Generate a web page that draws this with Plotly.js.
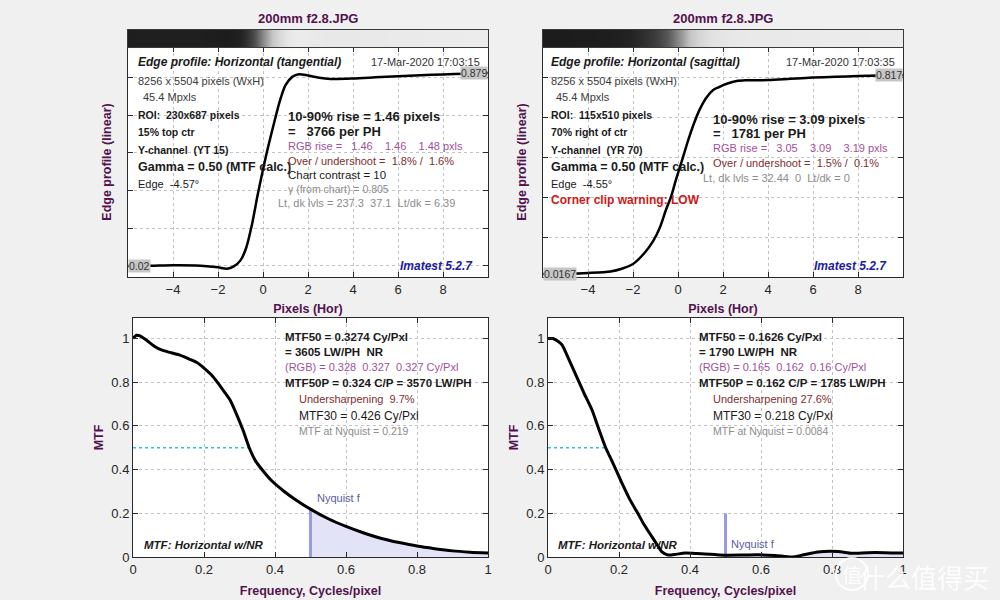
<!DOCTYPE html>
<html>
<head>
<meta charset="utf-8">
<script src="https://cdn.plot.ly/plotly-3.0.1.min.js"></script>
<style>html,body{margin:0;padding:0;background:#f0f0f0;}#chart{width:1000px;height:600px;}</style>
</head>
<body>
<div id="chart"></div>
<script>
// ---------- data ----------
const fileTitle = '200mm f2.8.JPG';

// Edge profile, horizontal (tangential)
const edgeTX = [-6,-5,-4,-3,-2.5,-2,-1.6,-1.3,-1.0,-0.75,-0.5,-0.25,0,0.25,0.5,0.75,1.0,1.3,1.6,2,2.5,3,4,5,6,7,8,9,10];
const edgeTY = [0.02,0.021,0.023,0.022,0.019,0.014,0.008,0.018,0.045,0.1,0.2,0.33,0.45,0.56,0.66,0.755,0.825,0.862,0.874,0.868,0.858,0.853,0.855,0.86,0.865,0.869,0.873,0.876,0.879];

// Edge profile, horizontal (sagittal)
const edgeSX = [-6,-5,-4,-3,-2.5,-2,-1.5,-1.1,-0.8,-0.55,-0.3,-0.1,0.2,0.45,0.7,0.95,1.25,1.55,1.8,2.2,2.6,3,4,5,6,7,8,9,10];
const edgeSY = [0.0167,0.018,0.021,0.027,0.038,0.057,0.1,0.15,0.205,0.271,0.33,0.393,0.48,0.554,0.62,0.676,0.725,0.756,0.768,0.783,0.793,0.796,0.797,0.802,0.807,0.81,0.813,0.815,0.817];

// MTF tangential
const mtfTF = [0,0.01,0.02,0.04,0.06,0.08,0.1,0.13,0.16,0.18,0.2,0.22,0.24,0.26,0.273,0.29,0.31,0.3274,0.345,0.366,0.39,0.426,0.46,0.5,0.55,0.6,0.65,0.7,0.75,0.8,0.85,0.9,0.95,1.0];
const mtfTV = [1.0,1.015,1.012,0.99,0.965,0.948,0.938,0.925,0.905,0.89,0.865,0.835,0.795,0.75,0.72,0.66,0.58,0.50,0.44,0.395,0.35,0.30,0.26,0.219,0.175,0.14,0.11,0.085,0.066,0.05,0.038,0.028,0.022,0.018];

// MTF sagittal
const mtfSF = [0,0.014,0.03,0.04,0.06,0.085,0.1,0.124,0.14,0.1626,0.18,0.208,0.23,0.253,0.27,0.293,0.31,0.321,0.338,0.36,0.386,0.42,0.442,0.47,0.5,0.55,0.592,0.64,0.687,0.72,0.76,0.817,0.856,0.9,0.95,1.0];
const mtfSV = [1.0,1.0,0.985,0.97,0.9,0.81,0.755,0.673,0.6,0.5,0.44,0.339,0.265,0.2,0.15,0.092,0.05,0.023,0.009,0.012,0.018,0.016,0.014,0.011,0.0084,0.009,0.01,0.007,0.0,0.01,0.023,0.025,0.017,0.02,0.02,0.018];

const nyquistF = 0.5;
const mtf50T = 0.3274, mtf50S = 0.1626;
const nyqT = 0.219, nyqS = 0.0084;
const xTicksEdge = [-4,-2,0,2,4,6,8];
const xTicksMtf = [0,0.2,0.4,0.6,0.8,1];
const yTicksMtf = [0,0.2,0.4,0.6,0.8,1];

// ---------- helpers ----------
const FONT = 'Liberation Sans, Arial, Helvetica, sans-serif';
const PURPLE = '#53124f';
const W = 1000, H = 600;
function ann(px, py, text, o) {
  o = o || {};
  return Object.assign({
    xref: 'paper', yref: 'paper', x: px / W, y: 1 - py / H,
    text: text, showarrow: false, xanchor: 'left', yanchor: 'middle',
    font: {family: FONT, size: o.size || 11, color: o.color || '#1a1a1a'}
  }, o.extra || {});
}
const nb = s => s.replace(/ /g, '\u00a0');
const B = s => '<b>' + nb(s) + '</b>';
const BI = s => '<b><i>' + nb(s) + '</i></b>';

function filterFrom(xs, ys, x0) {
  const ox = [], oy = [];
  xs.forEach((v, i) => { if (v >= x0) { ox.push(v); oy.push(ys[i]); } });
  return [ox, oy];
}

const [shTX, shTY] = filterFrom(mtfTF, mtfTV, nyquistF);
const [shSX, shSY] = filterFrom(mtfSF, mtfSV, nyquistF);

const grayScale = [[0, '#1c1c1c'], [0.35, '#5a5a5a'], [0.7, '#c4c4c4'], [1, '#ececec']];

const traces = [
  {type: 'heatmap', x: edgeTX, y: [0, 1], z: [edgeTY, edgeTY], xaxis: 'x5', yaxis: 'y5',
   colorscale: grayScale, showscale: false, zsmooth: 'best', hoverinfo: 'skip'},
  {type: 'heatmap', x: edgeSX, y: [0, 1], z: [edgeSY, edgeSY], xaxis: 'x6', yaxis: 'y6',
   colorscale: grayScale, showscale: false, zsmooth: 'best', hoverinfo: 'skip'},
  {type: 'scatter', mode: 'lines', x: edgeTX, y: edgeTY, xaxis: 'x', yaxis: 'y',
   line: {color: '#000', width: 2.5, shape: 'spline', smoothing: 0.8}},
  {type: 'scatter', mode: 'lines', x: edgeSX, y: edgeSY, xaxis: 'x2', yaxis: 'y2',
   line: {color: '#000', width: 2.5, shape: 'spline', smoothing: 0.8}},
  // tangential MTF
  {type: 'scatter', mode: 'lines', x: shTX, y: shTY, xaxis: 'x3', yaxis: 'y3',
   fill: 'tozeroy', fillcolor: '#e3e3f7', line: {width: 0, color: '#e3e3f7'}},
  {type: 'scatter', mode: 'lines', x: [nyquistF, nyquistF], y: [0, nyqT], xaxis: 'x3', yaxis: 'y3',
   line: {color: '#9a9ae2', width: 3}},
  {type: 'scatter', mode: 'lines', x: [0, mtf50T], y: [0.5, 0.5], xaxis: 'x3', yaxis: 'y3',
   line: {color: '#2cc4cc', width: 1.5, dash: 'dot'}},
  {type: 'scatter', mode: 'lines', x: mtfTF, y: mtfTV, xaxis: 'x3', yaxis: 'y3',
   line: {color: '#000', width: 3, shape: 'spline', smoothing: 0.6}},
  // sagittal MTF
  {type: 'scatter', mode: 'lines', x: shSX, y: shSY, xaxis: 'x4', yaxis: 'y4',
   fill: 'tozeroy', fillcolor: '#e3e3f7', line: {width: 0, color: '#e3e3f7'}},
  {type: 'scatter', mode: 'lines', x: [nyquistF, nyquistF], y: [0, 0.2], xaxis: 'x4', yaxis: 'y4',
   line: {color: '#9a9ae2', width: 3}},
  {type: 'scatter', mode: 'lines', x: [0, mtf50S], y: [0.5, 0.5], xaxis: 'x4', yaxis: 'y4',
   line: {color: '#2cc4cc', width: 1.5, dash: 'dot'}},
  {type: 'scatter', mode: 'lines', x: mtfSF, y: mtfSV, xaxis: 'x4', yaxis: 'y4',
   line: {color: '#000', width: 3, shape: 'spline', smoothing: 0.6}}
];

const tickFont = {family: FONT, size: 13, color: '#262626'};
const titleFont = {family: FONT, size: 12.5, color: PURPLE, weight: 'bold'};
function baseAxis(extra) {
  return Object.assign({
    showline: true, linecolor: '#2a2a2a', linewidth: 1, mirror: 'ticks',
    ticks: 'inside', ticklen: 5, tickcolor: '#2a2a2a',
    showgrid: true, gridcolor: '#c2c2c2', griddash: 'dot', gridwidth: 1,
    zeroline: false, tickfont: tickFont, automargin: false, fixedrange: true
  }, extra);
}
const px2x = (a, b) => [a / W, b / W];
const py2y = (top, bot) => [1 - bot / H, 1 - top / H];

const layout = {
  width: W, height: H,
  margin: {l: 0, r: 0, t: 0, b: 0},
  paper_bgcolor: '#f0f0f0', plot_bgcolor: '#ffffff',
  showlegend: false,
  font: {family: FONT},
  xaxis: baseAxis({domain: px2x(128, 488), anchor: 'y', range: [-6, 10], tickvals: xTicksEdge,
    title: {text: '<b>Pixels (Hor)</b>', font: titleFont, standoff: 8}}),
  yaxis: baseAxis({domain: py2y(47, 277), anchor: 'x', range: [-0.029, 0.995], tick0: 0.02, dtick: 0.168,
    showticklabels: false, title: {text: '<b>Edge profile (linear)</b>', font: titleFont, standoff: 12}}),
  xaxis2: baseAxis({domain: px2x(543, 903), anchor: 'y2', range: [-6, 10], tickvals: xTicksEdge,
    title: {text: '<b>Pixels (Hor)</b>', font: titleFont, standoff: 8}}),
  yaxis2: baseAxis({domain: py2y(47, 277), anchor: 'x2', range: [0.0046, 0.93], tick0: 0.0005, dtick: 0.1617,
    showticklabels: false, title: {text: '<b>Edge profile (linear)</b>', font: titleFont, standoff: 12}}),
  xaxis3: baseAxis({domain: px2x(133, 488), anchor: 'y3', range: [0, 1], tickvals: xTicksMtf,
    title: {text: '<b>Frequency, Cycles/pixel</b>', font: titleFont, standoff: 10}}),
  yaxis3: baseAxis({domain: py2y(318, 557), anchor: 'x3', range: [0, 1.094], tickvals: yTicksMtf,
    title: {text: '<b>MTF</b>', font: titleFont, standoff: 4}}),
  xaxis4: baseAxis({domain: px2x(548, 903), anchor: 'y4', range: [0, 1], tickvals: xTicksMtf,
    title: {text: '<b>Frequency, Cycles/pixel</b>', font: titleFont, standoff: 10}}),
  yaxis4: baseAxis({domain: py2y(318, 557), anchor: 'x4', range: [0, 1.094], tickvals: yTicksMtf,
    title: {text: '<b>MTF</b>', font: titleFont, standoff: 4}}),
  xaxis5: {domain: px2x(128, 488), anchor: 'y5', range: [-6, 10], showticklabels: false, ticks: '',
    showgrid: false, zeroline: false, showline: true, mirror: true, linecolor: '#3a3a3a', fixedrange: true},
  yaxis5: {domain: py2y(30, 47), anchor: 'x5', range: [-0.5, 1.5], showticklabels: false, ticks: '',
    showgrid: false, zeroline: false, showline: true, mirror: true, linecolor: '#3a3a3a', fixedrange: true},
  xaxis6: {domain: px2x(543, 903), anchor: 'y6', range: [-6, 10], showticklabels: false, ticks: '',
    showgrid: false, zeroline: false, showline: true, mirror: true, linecolor: '#3a3a3a', fixedrange: true},
  yaxis6: {domain: py2y(30, 47), anchor: 'x6', range: [-0.5, 1.5], showticklabels: false, ticks: '',
    showgrid: false, zeroline: false, showline: true, mirror: true, linecolor: '#3a3a3a', fixedrange: true},
  annotations: [],
  shapes: []
};

const A = layout.annotations;
const GRAY = '#8c8c8c', RGBC = '#a0509a', BROWN = '#7e2e2e', DARK = '#1a1a1a';

// titles
A.push(ann(308, 19, '<b>' + fileTitle + '</b>', {size: 13, color: PURPLE, extra: {xanchor: 'center'}}));
A.push(ann(723, 19, '<b>' + fileTitle + '</b>', {size: 13, color: PURPLE, extra: {xanchor: 'center'}}));

// ---- top panel text ----
function topLeftBlock(x0, info) {
  A.push(ann(x0, 62, BI(info.head), {size: 12, color: DARK}));
  A.push(ann(info.dateX, 62, nb(info.date), {size: 11, color: '#333', extra: {xanchor: 'right'}}));
  A.push(ann(x0, 81, nb('8256 x 5504 pixels (WxH)'), {size: 11, color: '#3a3a3a'}));
  A.push(ann(x0 + 5, 97, nb('45.4 Mpxls'), {size: 11, color: '#3a3a3a'}));
  A.push(ann(x0, 115, B(info.roi), {size: 10.5, color: DARK}));
  A.push(ann(x0, 132, B(info.loc), {size: 10.5, color: DARK}));
  A.push(ann(x0, 150, B(info.chan), {size: 10.5, color: DARK}));
  A.push(ann(x0, 167, B('Gamma = 0.50 (MTF calc.)'), {size: 12.5, color: DARK}));
  A.push(ann(x0, 184, nb(info.edge), {size: 11, color: DARK}));
}
topLeftBlock(136, {head: 'Edge profile: Horizontal (tangential)', date: '17-Mar-2020 17:03:15', dateX: 482,
  roi: 'ROI:  230x687 pixels', loc: '15% top ctr', chan: 'Y-channel  (YT 15)', edge: 'Edge  -4.57°'});
topLeftBlock(549, {head: 'Edge profile: Horizontal (sagittal)', date: '17-Mar-2020 17:03:35', dateX: 897,
  roi: 'ROI:  115x510 pixels', loc: '70% right of ctr', chan: 'Y-channel  (YR 70)', edge: 'Edge  -4.55°'});
A.push(ann(549, 200, B('Corner clip warning: LOW'), {size: 12, color: '#cc1a1a'}));

// right-side result text, tangential
A.push(ann(286, 116, B('10-90% rise = 1.46 pixels'), {size: 13, color: DARK}));
A.push(ann(286, 132, B('=   3766 per PH'), {size: 13, color: DARK}));
A.push(ann(286, 146, nb('RGB rise =   1.46    1.46    1.48 pxls'), {size: 11, color: RGBC}));
A.push(ann(286, 161, nb('Over / undershoot =  1.8% /  1.6%'), {size: 11, color: BROWN}));
A.push(ann(286, 175, nb('Chart contrast = 10'), {size: 11.5, color: DARK}));
A.push(ann(286, 189, nb('γ (from chart) = 0.805'), {size: 10.5, color: GRAY}));
A.push(ann(276, 203, nb('Lt, dk lvls = 237.3  37.1  Lt/dk = 6.39'), {size: 11, color: GRAY}));
A.push(ann(475, 266, BI('Imatest 5.2.7'), {size: 12, color: '#1c1ca0', extra: {xanchor: 'right'}}));

// sagittal
A.push(ann(711, 119, B('10-90% rise = 3.09 pixels'), {size: 13, color: DARK}));
A.push(ann(711, 133, B('=   1781 per PH'), {size: 13, color: DARK}));
A.push(ann(711, 148, nb('RGB rise =   3.05    3.09    3.19 pxls'), {size: 11, color: RGBC}));
A.push(ann(711, 163, nb('Over / undershoot =  1.5% /  0.1%'), {size: 11, color: BROWN}));
A.push(ann(701, 178, nb('Lt, dk lvls = 32.44  0  Lt/dk = 0'), {size: 11, color: GRAY}));
A.push(ann(889, 266, BI('Imatest 5.2.7'), {size: 12, color: '#1c1ca0', extra: {xanchor: 'right'}}));

// level labels on edge plots
function lvlLabel(xr, yr, xv, yv, anchor) {
  A.push({xref: xr, yref: yr, x: xv, y: yv, text: String(yv), showarrow: false, xanchor: anchor,
    yanchor: 'middle', bgcolor: '#c6c6c6', borderpad: 0, font: {family: FONT, size: 10.5, color: '#333'}});
}
lvlLabel('x', 'y', 10, edgeTY[edgeTY.length - 1], 'right');
lvlLabel('x', 'y', -6, edgeTY[0], 'left');
lvlLabel('x2', 'y2', 10, edgeSY[edgeSY.length - 1], 'right');
lvlLabel('x2', 'y2', -6, edgeSY[0], 'left');

// ---- MTF text blocks ----
function mtfBlock(x0, t) {
  A.push(ann(x0, 337, B(t.l1), {size: 11.5, color: DARK}));
  A.push(ann(x0, 352, B(t.l2), {size: 11.5, color: DARK}));
  A.push(ann(x0, 367, nb(t.l3), {size: 11, color: RGBC}));
  A.push(ann(x0, 383, B(t.l4), {size: 11.5, color: DARK}));
  A.push(ann(x0 + 14, 399, nb(t.l5), {size: 11, color: BROWN}));
  A.push(ann(x0 + 14, 416, nb(t.l6), {size: 12, color: DARK}));
  A.push(ann(x0 + 14, 431, nb(t.l7), {size: 10.5, color: GRAY}));
  A.push(ann(x0 - 141, 545, BI('MTF: Horizontal w/NR'), {size: 11.5, color: DARK}));
}
mtfBlock(283, {l1: 'MTF50 = 0.3274 Cy/Pxl', l2: '= 3605 LW/PH  NR', l3: '(RGB) = 0.328  0.327  0.327 Cy/Pxl',
  l4: 'MTF50P = 0.324 C/P = 3570 LW/PH', l5: 'Undersharpening  9.7%', l6: 'MTF30 = 0.426 Cy/Pxl',
  l7: 'MTF at Nyquist = ' + nyqT});
mtfBlock(697, {l1: 'MTF50 = 0.1626 Cy/Pxl', l2: '= 1790 LW/PH  NR', l3: '(RGB) = 0.165  0.162  0.16 Cy/Pxl',
  l4: 'MTF50P = 0.162 C/P = 1785 LW/PH', l5: 'Undersharpening 27.6%', l6: 'MTF30 = 0.218 Cy/Pxl',
  l7: 'MTF at Nyquist = ' + nyqS});
A.push(ann(315, 498, 'Nyquist f', {size: 11, color: '#5a5aa6'}));
A.push(ann(729, 544, 'Nyquist f', {size: 11, color: '#5a5aa6'}));

// watermark
A.push(ann(924, 576, '什么值得买', {extra: {xanchor: 'center',
  font: {family: 'Noto Sans CJK SC', size: 26, color: 'rgba(255,255,255,0.92)'}}}));
A.push(ann(852, 574, '值', {extra: {xanchor: 'center',
  font: {family: 'Noto Sans CJK SC', size: 20, color: 'rgba(255,255,255,0.92)'}}}));
layout.shapes.push({type: 'circle', xref: 'paper', yref: 'paper', x0: 836 / W, x1: 868 / W, y0: 1 - 590 / H, y1: 1 - 558 / H,
  line: {color: 'rgba(255,255,255,0.9)', width: 2}});

Plotly.newPlot('chart', traces, layout, {displayModeBar: false, staticPlot: true});
</script>
</body>
</html>
